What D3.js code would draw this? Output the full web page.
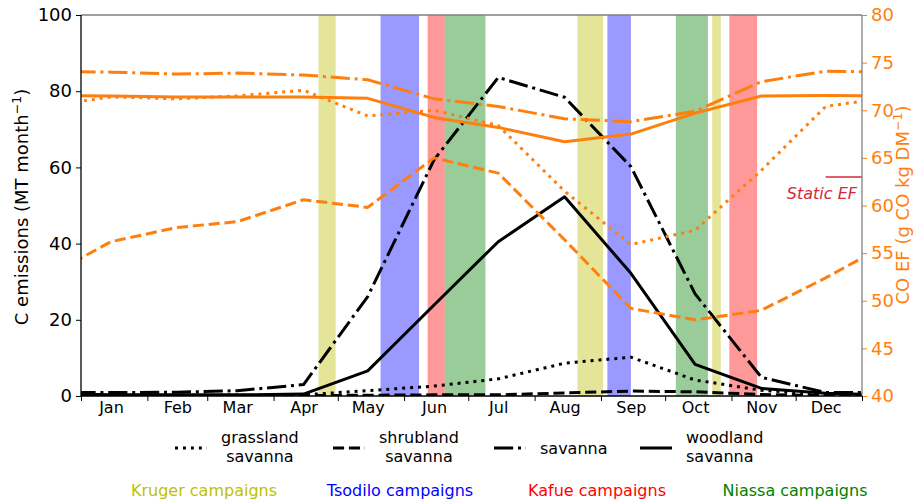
<!DOCTYPE html>
<html>
<head>
<meta charset="utf-8">
<script src="https://cdn.jsdelivr.net/npm/d3@7"></script>
<style>
  body { margin: 0; background: #fff; }
  text { font-family: "DejaVu Sans", sans-serif; }
</style>
</head>
<body>
<svg id="chart" width="915" height="501"></svg>
<script>
// Monthly values, plotted at the middle of each month
const months = ['Jan','Feb','Mar','Apr','May','Jun','Jul','Aug','Sep','Oct','Nov','Dec'];

// Carbon emissions (MT month^-1), left axis
const grasslandC = [0.2, 0.2, 0.2, 0.3, 1.4, 2.6, 4.5, 8.6, 10.2, 4.2, 1.5, 0.3];
const shrublandC = [0.1, 0.1, 0.1, 0.1, 0.2, 0.3, 0.3, 0.8, 1.3, 1.1, 0.4, 0.1];
const savannaC   = [0.9, 1.0, 1.4, 3.0, 26.1, 62.0, 83.6, 78.4, 60.2, 26.8, 4.9, 0.9];
const woodlandC  = [0.3, 0.3, 0.3, 0.5, 6.6, 23.9, 40.5, 52.3, 32.2, 8.3, 2.0, 0.7];

// CO emission factors (g CO kg DM^-1), right axis
const grasslandEF = [71.4, 71.2, 71.5, 72.1, 69.4, 70.0, 68.4, 61.5, 55.9, 57.4, 63.7, 70.4];
const shrublandEF = [56.2, 57.7, 58.3, 60.6, 59.8, 65.0, 63.4, 56.4, 49.2, 48.0, 49.0, 52.4];
const savannaEF   = [74.0, 73.8, 73.9, 73.7, 73.2, 71.2, 70.4, 69.1, 68.8, 69.9, 73.0, 74.1];
const woodlandEF  = [71.5, 71.4, 71.4, 71.4, 71.25, 69.25, 68.2, 66.7, 67.5, 69.7, 71.5, 71.55];

const staticEF = 63;

// Field campaign periods
const campaignSites  = ['Kruger','Tsodilo','Kafue','Niassa','Kruger','Tsodilo','Niassa','Kruger','Kafue'];
const campaignStarts = ['2019-04-22','2019-05-21','2019-06-12','2019-06-20','2019-08-21','2019-09-04','2019-10-06','2019-10-23','2019-10-31'];
const campaignEnds   = ['2019-04-30','2019-06-08','2019-06-20','2019-07-09','2019-09-02','2019-09-15','2019-10-21','2019-10-27','2019-11-13'];

const siteNames  = ['Kruger','Tsodilo','Kafue','Niassa'];
const siteColors = ['#bfbf00','#0000ff','#ff0000','#008000'];

const leftTicks  = [0, 20, 40, 60, 80, 100];
const rightTicks = [40, 45, 50, 55, 60, 65, 70, 75, 80];

const vegLabels = ['grassland\nsavanna', 'shrubland\nsavanna', 'savanna', 'woodland\nsavanna'];

// ---------------------------------------------------------------
const svg = d3.select('#chart');
const L = 81, R = 862, T = 15, B = 396;
const ORANGE = '#ff7f0e';
const LW = 3;
const dashes = {
  dotted: `${LW},${1.65 * LW}`,
  dashed: `${3.7 * LW},${1.6 * LW}`,
  dashdot: `${6.4 * LW},${1.6 * LW},${LW},${1.6 * LW}`,
  solid: null
};
const styles = ['dotted', 'dashed', 'dashdot', 'solid'];

const x = d3.scaleTime().domain([new Date(2019, 0, 1), new Date(2020, 0, 1)]).range([L, R]);
const yC = d3.scaleLinear().domain([0, 100]).range([B, T]);
const yEF = d3.scaleLinear().domain([40, 80]).range([B, T]);

const siteColor = d3.scaleOrdinal().domain(siteNames).range(siteColors);
const parse = d3.timeParse('%Y-%m-%d');

svg.append('defs').append('clipPath').attr('id', 'plot')
  .append('rect').attr('x', L).attr('y', T).attr('width', R - L).attr('height', B - T);

// Campaign bands
svg.append('g').selectAll('rect')
  .data(campaignSites.map((s, i) => ({ site: s, start: parse(campaignStarts[i]), end: parse(campaignEnds[i]) })))
  .join('rect')
  .attr('x', d => x(d.start))
  .attr('width', d => x(d.end) - x(d.start))
  .attr('y', T).attr('height', B - T)
  .attr('fill', d => siteColor(d.site))
  .attr('fill-opacity', 0.4);

// Series points at mid-month, wrapped around the year boundary
function cyclic(values) {
  const pts = values.map((v, i) => ({ date: new Date(2019, i, 15), v }));
  return [{ date: new Date(2018, 11, 15), v: values[11] }, ...pts, { date: new Date(2020, 0, 15), v: values[0] }];
}

const linesG = svg.append('g').attr('clip-path', 'url(#plot)');

function drawSeries(series, yScale, color) {
  series.forEach((vals, i) => {
    const line = d3.line().x(d => x(d.date)).y(d => yScale(d.v));
    linesG.append('path')
      .datum(cyclic(vals))
      .attr('d', line)
      .attr('fill', 'none')
      .attr('stroke', color)
      .attr('stroke-width', LW)
      .attr('stroke-linejoin', 'round')
      .attr('stroke-dasharray', dashes[styles[i]]);
  });
}

drawSeries([grasslandC, shrublandC, savannaC, woodlandC], yC, '#000');
drawSeries([grasslandEF, shrublandEF, savannaEF, woodlandEF], yEF, ORANGE);

// Static EF reference
svg.append('line')
  .attr('x1', x(new Date(2019, 11, 15))).attr('x2', x(new Date(2020, 0, 1)))
  .attr('y1', yEF(staticEF)).attr('y2', yEF(staticEF))
  .attr('stroke', '#d62839').attr('stroke-width', 1.5);
svg.append('text')
  .attr('x', 857).attr('y', yEF(staticEF) + 22)
  .attr('text-anchor', 'end')
  .attr('font-style', 'italic')
  .attr('font-size', 16)
  .attr('fill', '#d62839')
  .text('Static EF');

// Axes
const leftAxis = svg.append('g').attr('transform', `translate(${L},0)`)
  .call(d3.axisLeft(yC).tickValues(leftTicks).tickSize(5).tickPadding(4));
leftAxis.select('.domain').remove();
leftAxis.selectAll('text').attr('font-size', 18).attr('font-family', '"DejaVu Sans", sans-serif');

const rightAxis = svg.append('g').attr('transform', `translate(${R},0)`)
  .call(d3.axisRight(yEF).tickValues(rightTicks).tickSize(5).tickPadding(4));
rightAxis.select('.domain').remove();
rightAxis.selectAll('line').attr('stroke', ORANGE);
rightAxis.selectAll('text').attr('fill', ORANGE).attr('font-size', 18).attr('font-family', '"DejaVu Sans", sans-serif');

const monthTicks = svg.append('g').attr('transform', `translate(0,${B})`)
  .call(d3.axisBottom(x).ticks(d3.timeMonth.every(1)).tickFormat('').tickSize(5));
monthTicks.select('.domain').remove();

const monthLabels = svg.append('g').attr('transform', `translate(0,${B})`)
  .call(d3.axisBottom(x)
    .tickValues(months.map((m, i) => new Date(2019, i, 15)))
    .tickFormat((d, i) => months[i])
    .tickSize(0).tickPadding(6));
monthLabels.select('.domain').remove();
monthLabels.selectAll('text').attr('font-size', 16).attr('font-family', '"DejaVu Sans", sans-serif');

// Frame
svg.append('line').attr('x1', L).attr('x2', R).attr('y1', T).attr('y2', T).attr('stroke', '#808080').attr('stroke-width', 1.3);
svg.append('line').attr('x1', R).attr('x2', R).attr('y1', T).attr('y2', B).attr('stroke', '#808080').attr('stroke-width', 1.3);
svg.append('line').attr('x1', L).attr('x2', L).attr('y1', T).attr('y2', B).attr('stroke', '#000').attr('stroke-width', 1.3);
svg.append('line').attr('x1', L).attr('x2', R).attr('y1', B).attr('y2', B).attr('stroke', '#000').attr('stroke-width', 1.3);

// Axis titles
const lt = svg.append('text').attr('transform', 'translate(28,207) rotate(-90)')
  .attr('text-anchor', 'middle').attr('font-size', 18).attr('fill', '#000');
lt.append('tspan').text('C emissions (MT month');
lt.append('tspan').attr('dy', -7).attr('font-size', 12.5).text('\u22121');
lt.append('tspan').attr('dy', 7).text(')');

const rt = svg.append('text').attr('transform', 'translate(909,205) rotate(-90)')
  .attr('text-anchor', 'middle').attr('font-size', 18).attr('fill', ORANGE);
rt.append('tspan').text('CO EF (g CO kg DM');
rt.append('tspan').attr('dy', -7).attr('font-size', 12.5).text('\u22121');
rt.append('tspan').attr('dy', 7).text(')');

// Legend for vegetation types
const handleX = [175, 333, 494, 640];
const textAlign = ['center', 'center', 'left', 'left'];
const legY = 448;
vegLabels.forEach((lab, i) => {
  svg.append('line')
    .attr('x1', handleX[i]).attr('x2', handleX[i] + 32)
    .attr('y1', legY).attr('y2', legY)
    .attr('stroke', '#000').attr('stroke-width', LW)
    .attr('stroke-dasharray', dashes[styles[i]]);
  const lines = lab.split('\n');
  const tx = handleX[i] + 32 + 14;
  if (lines.length === 1) {
    svg.append('text').attr('x', tx).attr('y', legY + 6).attr('font-size', 16).text(lines[0]);
  } else {
    const t1 = svg.append('text').attr('x', tx).attr('y', legY - 5).attr('font-size', 16).text(lines[0]);
    const w = t1.node().getComputedTextLength();
    const t2 = svg.append('text').attr('y', legY + 13.5).attr('font-size', 16).text(lines[1]);
    if (textAlign[i] === 'center') {
      t2.attr('x', tx + w / 2).attr('text-anchor', 'middle');
    } else {
      t2.attr('x', tx);
    }
  }
});

// Campaign labels
const campaignLabelX = [204, 400, 597, 795];
siteNames.forEach((s, i) => {
  svg.append('text')
    .attr('x', campaignLabelX[i]).attr('y', 496)
    .attr('text-anchor', 'middle')
    .attr('font-size', 16)
    .attr('fill', siteColor(s))
    .text(`${s} campaigns`);
});
</script>
</body>
</html>
